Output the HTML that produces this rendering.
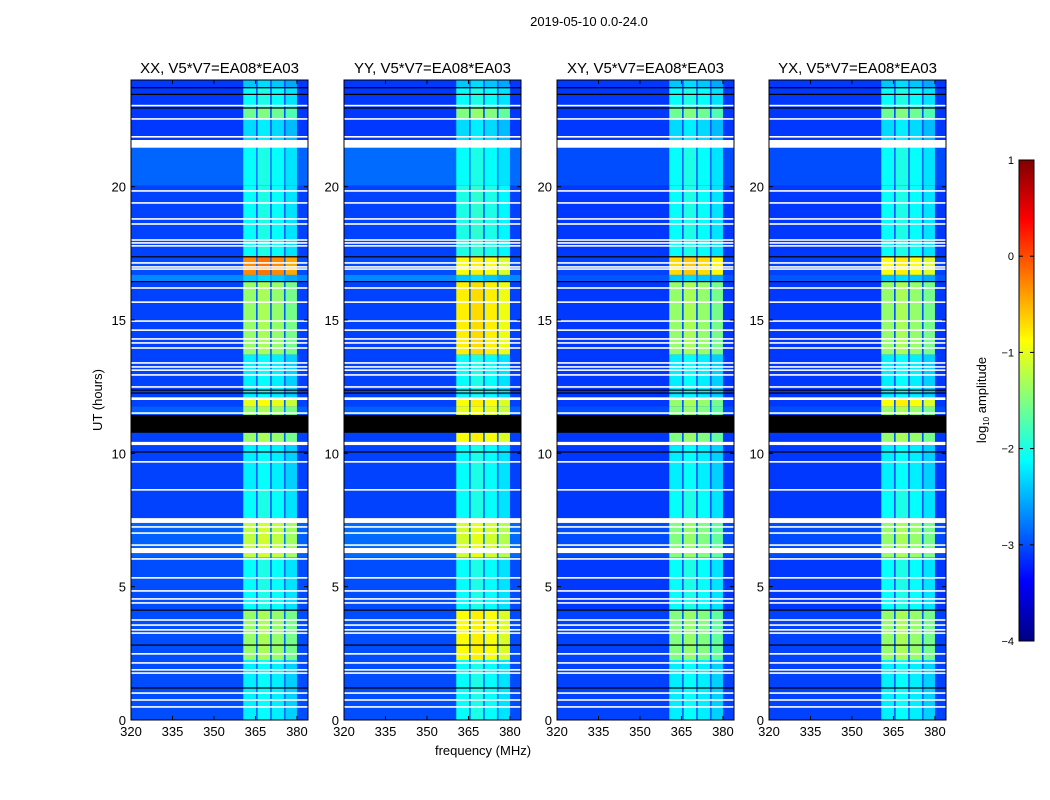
<!DOCTYPE html>
<html><head><meta charset="utf-8"><style>
body{margin:0;background:#fff;}
svg{display:block;font-family:"Liberation Sans","DejaVu Sans",sans-serif;}
</style></head><body>
<svg id="fig" width="1050" height="800" xmlns="http://www.w3.org/2000/svg">
<rect width="1050" height="800" fill="#fff"/>
<text x="589" y="26" font-size="13" text-anchor="middle">2019-05-10 0.0-24.0</text>
<text x="483" y="755" font-size="13" text-anchor="middle">frequency (MHz)</text>
<text x="0" y="0" font-size="13" text-anchor="middle" transform="translate(102,400) rotate(-90)">UT (hours)</text>
<g id="panels"></g>
<g id="cbar"></g>
</svg>
<script>
// ---- data (hours / MHz / log10 amplitude) ----
const panelTitles = ["XX, V5*V7=EA08*EA03","YY, V5*V7=EA08*EA03","XY, V5*V7=EA08*EA03","YX, V5*V7=EA08*EA03"];
const segTop   = [24, 23.7, 22.95, 22.55, 21.75, 21.45, 20.05, 17.4, 16.69, 16.45, 13.7, 12.2, 12.0, 11.75, 10.77, 10.3, 8.63, 7.57, 6.1, 4.1, 2.25];
const segBot   = [23.7, 22.95, 22.55, 21.75, 21.45, 20.05, 17.4, 16.69, 16.45, 13.7, 12.2, 12.0, 11.75, 10.77, 10.3, 8.63, 7.57, 6.1, 4.1, 2.25, 0];
const bgXX     = [-3.1,-3.1,-3.1,-3.1,-3.1,-2.88,-3.05,-3.0,-2.7,-3.05,-3.05,-3.05,-3.05,-2.9,-3.05,-3.05,-3.05,-2.9,-3.0,-3.0,-3.0];
const bgYY     = [-3.1,-3.1,-3.1,-3.1,-3.1,-2.85,-3.05,-3.0,-2.7,-3.05,-3.05,-3.05,-3.05,-2.9,-3.05,-3.05,-3.05,-2.85,-3.0,-3.0,-3.0];
const bgXY     = [-3.1,-3.1,-3.1,-3.1,-3.1,-3.0,-3.1,-3.05,-2.95,-3.1,-3.1,-3.1,-3.1,-3.0,-3.1,-3.1,-3.1,-3.0,-3.1,-3.05,-3.05];
const bgYX     = [-3.1,-3.1,-3.1,-3.1,-3.1,-3.0,-3.1,-3.05,-2.95,-3.1,-3.1,-3.1,-3.1,-3.0,-3.1,-3.1,-3.1,-3.0,-3.1,-3.05,-3.05];
const bandXX   = [-2.4,-2.1,-1.6,-2.3,-2.3,-2.1,-2.1,-0.3,-2.4,-1.4,-2.2,-2.2,-1.0,-1.4,-1.4,-2.2,-2.1,-1.2,-2.1,-1.4,-2.2];
const bandYY   = [-2.4,-2.1,-1.5,-2.3,-2.3,-2.1,-2.0,-0.9,-2.4,-0.8,-2.1,-2.1,-0.9,-1.0,-0.9,-2.1,-2.1,-1.1,-2.1,-0.9,-2.1];
const bandXY   = [-2.4,-2.1,-1.6,-2.3,-2.3,-2.1,-2.1,-0.7,-2.4,-1.4,-2.2,-2.2,-1.4,-1.5,-1.5,-2.2,-2.1,-1.5,-2.1,-1.5,-2.2];
const bandYX   = [-2.4,-2.1,-1.6,-2.3,-2.3,-2.1,-2.1,-0.9,-2.4,-1.4,-2.2,-2.2,-0.9,-1.4,-1.4,-2.2,-2.1,-1.4,-2.1,-1.4,-2.2];
const subbandLo  = [360.6, 365.8, 370.9, 375.9];
const subbandHi  = [365.2, 370.3, 375.3, 380.0];
const subbandOff = [0.0, 0.1, 0.0, -0.15];
const whiteLines = [23.04,22.54,21.87,19.84,19.39,18.79,18.6,18.0,17.89,17.78,17.14,16.99,16.91,16.2,15.67,14.96,14.62,14.29,14.14,13.95,13.39,13.24,13.12,12.94,12.49,11.51,9.68,8.63,7.24,7.01,6.56,6.04,5.33,4.84,4.54,4.39,3.75,3.56,3.38,3.26,2.48,2.14,1.88,1.76,1.01,0.75,0.49];
const whiteBlockLo = [21.46, 12.0, 10.31, 7.39, 6.26];
const whiteBlockHi = [21.75, 12.1, 10.43, 7.57, 6.45];
const blackLines = [23.71,23.46,22.95,17.37,16.44,12.37,12.26,10.05,4.12,2.81,1.2];
const blackBlockLo = [10.77];
const blackBlockHi = [11.44];
const xTicks = [320,335,350,365,380];
const yTicks = [0,5,10,15,20];
const cbTicks = [1,0,-1,-2,-3,-4];

const panelBg = [bgXX,bgYY,bgXY,bgYX];
const panelBand = [bandXX,bandYY,bandXY,bandYX];
const panelLeft = [131,344,557,769];
const PW=177, PT=80, PB=720, FMIN=320, FMAX=384, TMAX=24, VMIN=-4, VMAX=1;

function jet(v){
  let x=(v-VMIN)/(VMAX-VMIN); x=Math.max(0,Math.min(1,x));
  const c=t=>Math.round(255*Math.max(0,Math.min(1,t)));
  return `rgb(${c(1.5-Math.abs(4*x-3))},${c(1.5-Math.abs(4*x-2))},${c(1.5-Math.abs(4*x-1))})`;
}
const NS="http://www.w3.org/2000/svg";
function mk(tag,attrs,parent){const e=document.createElementNS(NS,tag);for(const k in attrs)e.setAttribute(k,attrs[k]);parent.appendChild(e);return e;}
const panels=document.getElementById('panels');

panelTitles.forEach((title,p)=>{
  const L=panelLeft[p];
  const xs=f=>L+(f-FMIN)/(FMAX-FMIN)*PW;
  const ys=h=>PB-h/TMAX*(PB-PT);
  const g=mk('g',{},panels);
  
  
  const bg=panelBg[p], band=panelBand[p];
  for(let i=0;i<segTop.length;i++){
    const y0=ys(segTop[i]), y1=ys(segBot[i]);
    const r=mk('rect',{x:L,y:y0,width:PW,height:y1-y0+0.3,fill:jet(bg[i])},g);
    
    
    const gap=mk('rect',{x:xs(subbandLo[0]),y:y0,width:xs(subbandHi[3])-xs(subbandLo[0]),height:y1-y0+0.3,fill:jet(bg[i]+0.15)},g);
    
    
    for(let s=0;s<subbandLo.length;s++){
      const c=mk('rect',{x:xs(subbandLo[s]),y:y0,width:xs(subbandHi[s])-xs(subbandLo[s]),height:y1-y0+0.3,fill:jet(band[i]+subbandOff[s])},g);
      
      
    }
  }
  whiteLines.forEach(h=>{const r=mk('rect',{x:L,y:ys(h)-0.8,width:PW,height:1.6,fill:'#fff'},g);
    
    });
  whiteBlockLo.forEach((lo,i)=>{const r=mk('rect',{x:L,y:ys(whiteBlockHi[i]),width:PW,height:ys(lo)-ys(whiteBlockHi[i]),fill:'#fff'},g);
    
    });
  blackLines.forEach(h=>{const r=mk('rect',{x:L,y:ys(h)-0.6,width:PW,height:1.2,fill:'#000'},g);
    
    });
  blackBlockLo.forEach((lo,i)=>{const r=mk('rect',{x:L,y:ys(blackBlockHi[i]),width:PW,height:ys(lo)-ys(blackBlockHi[i]),fill:'#000'},g);
    
    });
  const fr=mk('rect',{x:L,y:PT,width:PW,height:PB-PT,fill:'none',stroke:'#000','stroke-width':1},g);
  
  
  const t=mk('text',{x:L+PW/2,y:73,'font-size':15,'text-anchor':'middle'},g);t.textContent=title;
  
  
  xTicks.forEach(v=>{const x=xs(v);
    mk('line',{x1:x,x2:x,y1:PB,y2:PB-4,stroke:'#000'},g);mk('line',{x1:x,x2:x,y1:PT,y2:PT+4,stroke:'#000'},g);
    const tx=mk('text',{x:x,y:PB+16,'font-size':13,'text-anchor':'middle'},g);tx.textContent=v;
    
    });
  yTicks.forEach(v=>{const y=ys(v);
    mk('line',{x1:L,x2:L+4,y1:y,y2:y,stroke:'#000'},g);mk('line',{x1:L+PW,x2:L+PW-4,y1:y,y2:y,stroke:'#000'},g);
    const ty=mk('text',{x:L-5,y:y+5,'font-size':13,'text-anchor':'end'},g);ty.textContent=v;
    
    });
});

// colorbar
const cb=document.getElementById('cbar');
const CBX=1019,CBW=15,CBT=160,CBB=641;
const cys=v=>CBB-(v-VMIN)/(VMAX-VMIN)*(CBB-CBT);
const defs=mk('defs',{},cb);
const lg=mk('linearGradient',{id:'jetg',x1:0,y1:1,x2:0,y2:0},defs);
for(let i=0;i<=40;i++){const v=VMIN+(VMAX-VMIN)*i/40;mk('stop',{offset:i/40,'stop-color':jet(v)},lg);}
const bar=mk('rect',{x:CBX,y:CBT,width:CBW,height:CBB-CBT,fill:'url(#jetg)',stroke:'#000','stroke-width':1},cb);


cbTicks.forEach(v=>{const y=cys(v);
  mk('line',{x1:CBX,x2:CBX+4,y1:y,y2:y,stroke:'#000'},cb);mk('line',{x1:CBX+CBW,x2:CBX+CBW-4,y1:y,y2:y,stroke:'#000'},cb);
  const t=mk('text',{x:CBX-5,y:y+4,'font-size':11,'text-anchor':'end'},cb);t.textContent=(v<0?'\u2212':'')+Math.abs(v);
  
  });
const lab=mk('text',{transform:'translate(986,400) rotate(-90)','font-size':13,'text-anchor':'middle'},cb);
lab.innerHTML='log<tspan font-size="8" dy="3">10</tspan><tspan dy="-3"> amplitude</tspan>';


</script>
</body></html>
